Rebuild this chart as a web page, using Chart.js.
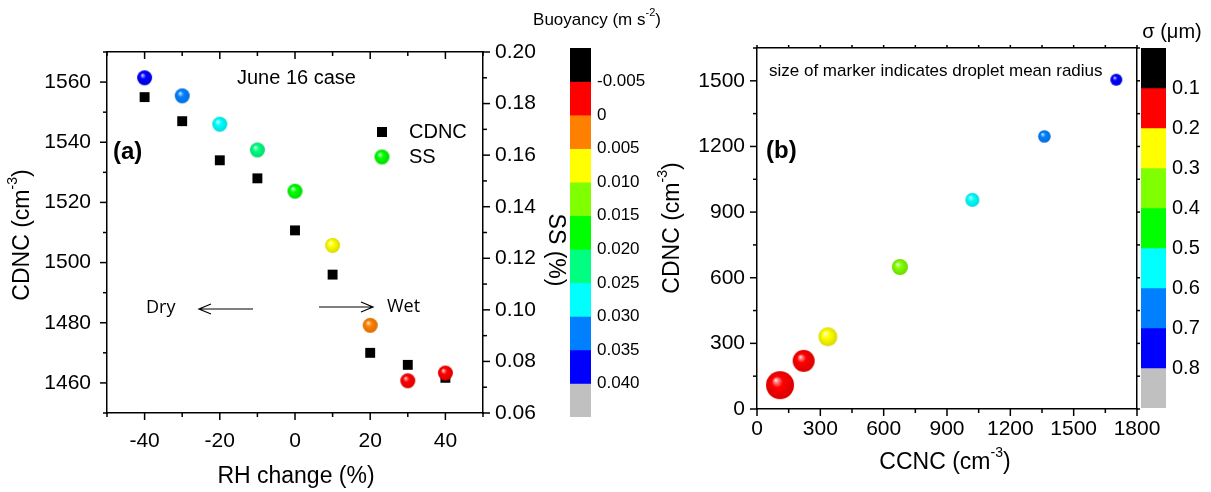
<!DOCTYPE html>
<html>
<head>
<meta charset="utf-8">
<script src="https://cdn.jsdelivr.net/npm/chart.js@4.4.1/dist/chart.umd.min.js"></script>
<style>
  html, body { margin: 0; padding: 0; background: #fff; }
  #wrap { position: relative; width: 1211px; height: 492px; overflow: hidden; }
  canvas { position: absolute; top: 0; }
</style>
</head>
<body>
<div id="wrap">
  <canvas id="chartB" width="571" height="492" style="left:640px;width:571px;height:492px"></canvas>
  <canvas id="chartA" width="700" height="492" style="left:0px;width:700px;height:492px"></canvas>
  <canvas id="cbA" width="110" height="492" style="left:560px;width:110px;height:492px"></canvas>
  <canvas id="cbB" width="80" height="492" style="left:1131px;width:80px;height:492px"></canvas>
</div>
<script>
// --- Data: panel (a) ---
const rhChange = [-40, -30, -20, -10, 0, 10, 20, 30, 40];
const cdncA = [1555, 1547, 1534, 1528, 1510.7, 1496, 1470, 1466, 1461.7];
const ssA = [0.190, 0.183, 0.172, 0.162, 0.146, 0.125, 0.094, 0.0725, 0.0755];
const buoyancyA = [0.037, 0.032, 0.027, 0.022, 0.017, 0.007, 0.002, -0.002, -0.002];

// colour bar (a): bin edges and colours from low to high (top to bottom)
const buoyancyEdges = [-0.005, 0, 0.005, 0.010, 0.015, 0.020, 0.025, 0.030, 0.035, 0.040];
const buoyancyColors = ['#000000', '#ff0000', '#ff8000', '#ffff00', '#80ff00', '#00ff00',
                        '#00ff80', '#00ffff', '#0080ff', '#0000ff', '#c0c0c0'];

// --- Data: panel (b) ---
const ccncB = [109, 221, 336, 677, 1020, 1361, 1702];
const cdncB = [109, 220, 330, 649, 956, 1246, 1505];
const sigmaB = [0.15, 0.15, 0.25, 0.35, 0.55, 0.65, 0.75];
const markerRadiusB = [14, 11, 9.5, 8, 7, 6.3, 6];

const sigmaEdges = [0.1, 0.2, 0.3, 0.4, 0.5, 0.6, 0.7, 0.8];
const sigmaColors = ['#000000', '#ff0000', '#ffff00', '#80ff00', '#00ff00',
                     '#00ffff', '#0080ff', '#0000ff', '#c0c0c0'];

const FONT = '"Liberation Sans", Arial, sans-serif';
const FONT2 = '"Open Sans", "Liberation Sans", sans-serif';
Chart.defaults.color = '#000';
Chart.defaults.font.family = FONT;

const binColor = (v, edges, colors) => colors[edges.filter(e => v >= e - 1e-9).length];

// --- Sphere markers ---
function hexToRgb(h) {
  const n = parseInt(h.slice(1), 16);
  return [(n >> 16) & 255, (n >> 8) & 255, n & 255];
}
function mix(rgb, t, k) {
  return `rgb(${rgb.map((c, i) => Math.round(c + (t[i] - c) * k)).join(',')})`;
}
function sphere(color, r) {
  const s = Math.ceil(2 * r) + 2;
  const c = document.createElement('canvas');
  c.width = s; c.height = s;
  const g = c.getContext('2d');
  const m = s / 2;
  const rgb = hexToRgb(color);
  const grad = g.createRadialGradient(m - r * 0.32, m - r * 0.38, 0, m, m, r);
  grad.addColorStop(0, '#ffffff');
  grad.addColorStop(0.12, mix(rgb, [255, 255, 255], 0.6));
  grad.addColorStop(0.4, mix(rgb, [255, 255, 255], 0));
  grad.addColorStop(1, mix(rgb, [0, 0, 0], 0.15));
  g.fillStyle = grad;
  g.beginPath();
  g.arc(m, m, r, 0, Math.PI * 2);
  g.fill();
  return c;
}

// --- helpers ---
function drawRich(ctx, x, y, parts, size, opts = {}) {
  ctx.save();
  ctx.translate(x, y);
  if (opts.rotate) ctx.rotate(opts.rotate);
  const weight = opts.bold ? 'bold ' : '';
  const family = opts.family || FONT;
  const supSize = Math.round(size * 0.62);
  const widths = parts.map(p => {
    ctx.font = weight + (p.sup ? supSize : size) + 'px ' + family;
    return ctx.measureText(p.t).width;
  });
  const total = widths.reduce((a, b) => a + b, 0);
  let cx = opts.align === 'left' ? 0 : -total / 2;
  ctx.fillStyle = '#000';
  ctx.textBaseline = 'middle';
  ctx.textAlign = 'left';
  parts.forEach((p, i) => {
    ctx.font = weight + (p.sup ? supSize : size) + 'px ' + family;
    ctx.fillText(p.t, cx, p.sup ? -size * 0.42 : 0);
    cx += widths[i];
  });
  ctx.restore();
}

function tickMarks(chart, scaleId, side, majorEvery, dir, majorLen, minorLen) {
  const scale = chart.scales[scaleId];
  const a = chart.chartArea;
  const ctx = chart.ctx;
  ctx.save();
  ctx.strokeStyle = '#000';
  ctx.lineWidth = 1.5;
  scale.ticks.forEach(t => {
    const q = t.value / majorEvery;
    const len = (Math.abs(q - Math.round(q)) < 1e-6 ? majorLen : minorLen) * dir;
    const p = scale.getPixelForValue(t.value);
    ctx.beginPath();
    if (side === 'bottom') { ctx.moveTo(p, a.bottom); ctx.lineTo(p, a.bottom + len); }
    if (side === 'top') { ctx.moveTo(p, a.top); ctx.lineTo(p, a.top - len); }
    if (side === 'left') { ctx.moveTo(a.left, p); ctx.lineTo(a.left - len, p); }
    if (side === 'right') { ctx.moveTo(a.right, p); ctx.lineTo(a.right + len, p); }
    ctx.stroke();
  });
  ctx.restore();
}

function arrow(ctx, x1, x2, y) {
  const d = x2 > x1 ? -1 : 1;
  ctx.save();
  ctx.strokeStyle = '#000';
  ctx.lineWidth = 1.2;
  ctx.beginPath();
  ctx.moveTo(x1, y); ctx.lineTo(x2, y);
  ctx.moveTo(x2 + d * 12, y - 5); ctx.lineTo(x2, y); ctx.lineTo(x2 + d * 12, y + 5);
  ctx.stroke();
  ctx.restore();
}

const tickFont = { family: FONT, size: 21 };
const frame = { color: '#000', width: 1.5 };
const noGrid = { display: false, drawTicks: false };
const fixW = w => s => { s.width = w; };
const fixH = h => s => { s.height = h; };

// --- Panel (a) ---
const ssSprites = buoyancyA.map(v => sphere(binColor(v, buoyancyEdges, buoyancyColors), 7.5));
const legendSphere = sphere('#00ff00', 7.5);

const annotA = {
  id: 'annotA',
  afterDraw(chart) {
    const ctx = chart.ctx;
    tickMarks(chart, 'x', 'bottom', 20, 1, 7, 4);
    tickMarks(chart, 'x', 'top', 20, -1, 7, 4);
    tickMarks(chart, 'y', 'left', 20, 1, 7, 4);
    tickMarks(chart, 'y2', 'right', 0.02, 1, 7, 4);

    drawRich(ctx, 23, 235, [{ t: 'CDNC (cm' }, { t: '-3', sup: true }, { t: ')' }], 23, { rotate: -Math.PI / 2 });
    drawRich(ctx, 296, 477, [{ t: 'RH change (%)' }], 23);
    drawRich(ctx, 555, 250, [{ t: 'SS (%)' }], 23, { rotate: Math.PI / 2 });
    drawRich(ctx, 597, 20, [{ t: 'Buoyancy (m s' }, { t: '-2', sup: true }, { t: ')' }], 17);

    drawRich(ctx, 237, 78, [{ t: 'June 16 case' }], 20, { align: 'left' });
    drawRich(ctx, 113, 152, [{ t: '(a)' }], 24, { align: 'left', bold: true });
    drawRich(ctx, 146, 308, [{ t: 'Dry' }], 18, { align: 'left', family: FONT2 });
    drawRich(ctx, 387, 307, [{ t: 'Wet' }], 18, { align: 'left', family: FONT2 });
    arrow(ctx, 253, 199, 309);
    arrow(ctx, 319, 373, 307);

    // legend
    ctx.fillStyle = '#000';
    ctx.fillRect(377, 127, 10, 10);
    ctx.drawImage(legendSphere, 382 - legendSphere.width / 2, 157 - legendSphere.height / 2);
    drawRich(ctx, 409, 132, [{ t: 'CDNC' }], 20, { align: 'left' });
    drawRich(ctx, 409, 157, [{ t: 'SS' }], 20, { align: 'left' });
  }
};

new Chart(document.getElementById('chartA'), {
  type: 'scatter',
  data: {
    datasets: [
      {
        label: 'CDNC',
        data: rhChange.map((x, i) => ({ x, y: cdncA[i] })),
        yAxisID: 'y',
        order: 1,
        pointStyle: 'rect',
        pointRadius: 7,
        backgroundColor: '#000',
        borderWidth: 0
      },
      {
        label: 'SS',
        data: rhChange.map((x, i) => ({ x, y: ssA[i] })),
        yAxisID: 'y2',
        order: 0,
        pointStyle: ssSprites,
        pointRadius: 7.5
      }
    ]
  },
  options: {
    responsive: false,
    animation: false,
    events: [],
    layout: { padding: 0 },
    plugins: { legend: { display: false }, tooltip: { enabled: false } },
    scales: {
      x: {
        type: 'linear', position: 'bottom', min: -50, max: 50,
        ticks: { stepSize: 10, autoSkip: false, maxRotation: 0, padding: 16, font: tickFont,
                 callback: v => (v % 20 === 0 ? String(v) : '') },
        grid: noGrid, border: frame, afterFit: fixH(79)
      },
      x2: {
        type: 'linear', position: 'top', min: -50, max: 50,
        ticks: { display: false }, grid: noGrid, border: frame, afterFit: fixH(52)
      },
      y: {
        type: 'linear', position: 'left', min: 1450, max: 1570,
        ticks: { stepSize: 10, autoSkip: false, padding: 16, font: tickFont,
                 callback: v => (v % 20 === 0 ? String(v) : '') },
        grid: noGrid, border: frame, afterFit: fixW(107)
      },
      y2: {
        type: 'linear', position: 'right', min: 0.06, max: 0.20,
        ticks: { stepSize: 0.01, autoSkip: false, padding: 12, font: tickFont,
                 callback: v => (Math.round(v * 100) % 2 === 0 ? v.toFixed(2) : '') },
        grid: noGrid, border: frame, afterFit: fixW(217)
      }
    }
  },
  plugins: [annotA]
});

// --- Panel (b) ---
const spritesB = sigmaB.map((s, i) => sphere(binColor(s, sigmaEdges, sigmaColors), markerRadiusB[i]));

const annotB = {
  id: 'annotB',
  afterDraw(chart) {
    const ctx = chart.ctx;
    tickMarks(chart, 'x', 'bottom', 300, 1, 7, 4);
    tickMarks(chart, 'x', 'top', 300, 1, 3, 3);
    tickMarks(chart, 'y', 'left', 300, 1, 7, 4);
    tickMarks(chart, 'y', 'right', 300, 1, 3, 3);

    drawRich(ctx, 33, 228, [{ t: 'CDNC (cm' }, { t: '-3', sup: true }, { t: ')' }], 23, { rotate: -Math.PI / 2 });
    drawRich(ctx, 305, 463, [{ t: 'CCNC (cm' }, { t: '-3', sup: true }, { t: ')' }], 23);
    drawRich(ctx, 129, 71, [{ t: 'size of marker indicates droplet mean radius' }], 17, { align: 'left' });
    drawRich(ctx, 126, 151, [{ t: '(b)' }], 24, { align: 'left', bold: true });
    drawRich(ctx, 532, 32, [{ t: 'σ (μm)' }], 20);
  }
};

new Chart(document.getElementById('chartB'), {
  type: 'scatter',
  data: {
    datasets: [{
      label: 'CDNC',
      data: ccncB.map((x, i) => ({ x, y: cdncB[i] })),
      pointStyle: spritesB,
      pointRadius: markerRadiusB
    }]
  },
  options: {
    responsive: false,
    animation: false,
    events: [],
    layout: { padding: 0 },
    plugins: { legend: { display: false }, tooltip: { enabled: false } },
    scales: {
      x: {
        type: 'linear', position: 'bottom', min: 0, max: 1800,
        ticks: { stepSize: 150, autoSkip: false, maxRotation: 0, padding: 8, font: tickFont,
                 callback: v => (v % 300 === 0 ? String(v) : '') },
        grid: noGrid, border: frame, afterFit: fixH(83)
      },
      x2: {
        type: 'linear', position: 'top', min: 0, max: 1800,
        ticks: { display: false }, grid: noGrid, border: frame, afterFit: fixH(48)
      },
      y: {
        type: 'linear', position: 'left', min: 0, max: 1650,
        ticks: { stepSize: 150, autoSkip: false, padding: 12, font: tickFont,
                 callback: v => (v % 300 === 0 ? String(v) : '') },
        grid: noGrid, border: frame, afterFit: fixW(117)
      },
      y2: {
        type: 'linear', position: 'right', min: 0, max: 1650,
        ticks: { display: false }, grid: noGrid, border: frame, afterFit: fixW(74)
      }
    }
  },
  plugins: [annotB]
});

// --- Colour bars ---
function colorbar(id, colors, labels, fontSize, padding, axisWidth) {
  new Chart(document.getElementById(id), {
    type: 'bar',
    data: {
      labels: [''],
      datasets: colors.map(c => ({
        data: [1], backgroundColor: c, borderWidth: 0,
        barPercentage: 1, categoryPercentage: 1
      }))
    },
    options: {
      responsive: false,
      animation: false,
      events: [],
      layout: { padding },
      plugins: { legend: { display: false }, tooltip: { enabled: false } },
      scales: {
        x: { display: false, stacked: true },
        y: {
          position: 'right', stacked: true, reverse: true, min: 0, max: colors.length,
          ticks: { stepSize: 1, autoSkip: false, padding: 6, font: { family: FONT, size: fontSize },
                   callback: v => labels[v - 1] ?? '' },
          grid: noGrid, border: { display: false }, afterFit: fixW(axisWidth)
        }
      }
    }
  });
}

colorbar('cbA', buoyancyColors, buoyancyEdges.map(v => (v === 0 ? '0' : v.toFixed(3))), 17,
         { left: 10, top: 48, bottom: 75, right: 0 }, 79);
colorbar('cbB', sigmaColors, sigmaEdges.map(v => v.toFixed(1)), 20,
         { left: 10, top: 48, bottom: 84, right: 0 }, 45);
</script>
</body>
</html>
